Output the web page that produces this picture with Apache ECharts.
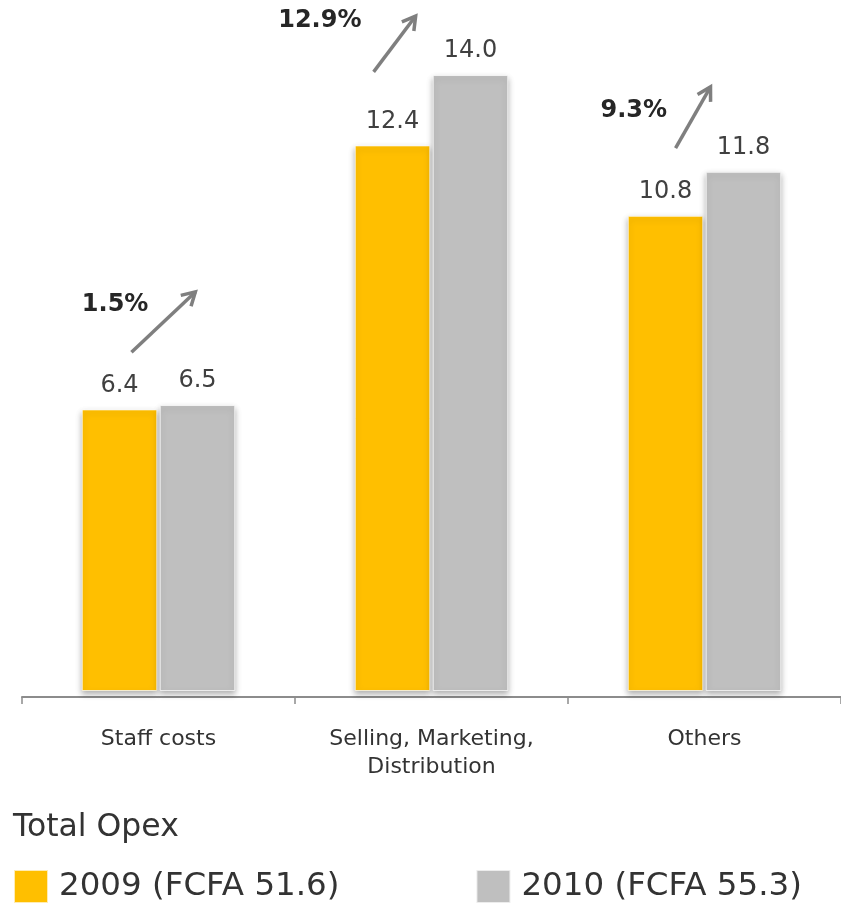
<!DOCTYPE html>
<html>
<head>
<meta charset="utf-8">
<script src="https://cdn.jsdelivr.net/npm/echarts@6/dist/echarts.min.js"></script>
<style>
  html, body { margin: 0; padding: 0; background: #ffffff; }
  #chart { width: 841px; height: 905px; }
</style>
</head>
<body>
<div id="chart"></div>
<script>
// Operating expense breakdown, FCFA billions
const categories = ['Staff costs', 'Selling, Marketing,\nDistribution', 'Others'];
const values2009 = [6.4, 12.4, 10.8];
const values2010 = [6.5, 14.0, 11.8];
const growthLabels = ['1.5%', '12.9%', '9.3%'];
const seriesNames = ['2009', '2010'];
const totals = ['51.6', '55.3'];

// Growth arrows: [category index, tail value, head value, label value]
const arrowLevels = [
  [0, 7.70, 9.07, 8.77],
  [1, 14.07, 15.34, 15.23],
  [2, 12.34, 13.73, 13.18]
];
// Horizontal placement of each arrow within its category band (fraction of band width)
const arrowShift = [
  [-0.099, 0.135, -0.159],
  [-0.212, -0.058, -0.409],
  [-0.106, 0.022, -0.259]
];

const FONT = '"DejaVu Sans", Verdana, sans-serif';
const ORANGE = '#FFBF00';
const GREY = '#BFBFBF';
const ARROW = '#7F7F7F';

const barStyle = (color) => ({
  color: color,
  borderColor: 'rgba(255,255,255,0.7)',
  borderWidth: 1,
  shadowBlur: 6,
  shadowColor: 'rgba(0,0,0,0.3)',
  shadowOffsetY: 3
});

const valueLabel = {
  show: true,
  position: 'top',
  distance: 12,
  fontFamily: FONT,
  fontSize: 24,
  color: '#404040',
  formatter: (p) => p.value.toFixed(1)
};

function renderArrow(params, api) {
  const idx = params.dataIndex;
  const cat = api.value(0);
  const band = api.size([1, 0])[0];
  const shift = arrowShift[idx];
  const tail = api.coord([cat, api.value(1)]);
  const head = api.coord([cat, api.value(2)]);
  const lab = api.coord([cat, api.value(3)]);
  const x0 = tail[0] + shift[0] * band, y0 = tail[1];
  const x1 = head[0] + shift[1] * band, y1 = head[1];
  const ang = Math.atan2(y1 - y0, x1 - x0);
  const len = 15, spread = Math.PI / 6;
  const w1 = [x1 - len * Math.cos(ang - spread), y1 - len * Math.sin(ang - spread)];
  const w2 = [x1 - len * Math.cos(ang + spread), y1 - len * Math.sin(ang + spread)];
  const lineStyle = { stroke: ARROW, lineWidth: 3.5, fill: null, lineCap: 'butt', lineJoin: 'miter' };
  return {
    type: 'group',
    children: [
      { type: 'line', shape: { x1: x0, y1: y0, x2: x1, y2: y1 }, style: lineStyle },
      { type: 'polyline', shape: { points: [w1, [x1, y1], w2] }, style: lineStyle },
      {
        type: 'text',
        x: lab[0] + shift[2] * band,
        y: lab[1],
        style: {
          text: growthLabels[idx],
          fill: '#262626',
          font: 'bold 24px ' + FONT,
          align: 'center',
          verticalAlign: 'middle'
        }
      }
    ]
  };
}

const chart = echarts.init(document.getElementById('chart'), null, { renderer: 'canvas' });

chart.setOption({
  animation: false,
  backgroundColor: '#ffffff',
  title: {
    text: 'Total Opex',
    left: 8,
    top: 807,
    textStyle: { fontFamily: FONT, fontSize: 31.5, fontWeight: 'normal', color: '#333333' }
  },
  legend: {
    left: 8,
    top: 864,
    itemWidth: 34,
    itemHeight: 33,
    itemGap: 136,
    icon: 'rect',
    selectedMode: false,
    data: seriesNames,
    formatter: (name) => name + ' (FCFA ' + totals[seriesNames.indexOf(name)] + ')',
    textStyle: { fontFamily: FONT, fontSize: 32.5, color: '#333333', padding: [0, 0, 0, 6] }
  },
  grid: { left: 22, top: 31, width: 822, height: 660 },
  xAxis: {
    type: 'category',
    data: categories,
    offset: 6,
    axisLine: { onZero: false, lineStyle: { color: '#8C8C8C', width: 2 } },
    axisTick: { show: true, length: 7, lineStyle: { color: '#8C8C8C', width: 1.5 } },
    axisLabel: {
      margin: 28,
      fontFamily: FONT,
      fontSize: 22,
      lineHeight: 28,
      color: '#333333'
    }
  },
  yAxis: {
    type: 'value',
    min: 0,
    max: 15,
    show: false,
    splitLine: { show: false }
  },
  series: [
    {
      name: seriesNames[0],
      type: 'bar',
      data: values2009,
      barWidth: 75.5,
      barGap: '3.3%',
      itemStyle: barStyle(ORANGE),
      label: valueLabel
    },
    {
      name: seriesNames[1],
      type: 'bar',
      data: values2010,
      barWidth: 75.5,
      itemStyle: barStyle(GREY),
      label: valueLabel
    },
    {
      type: 'custom',
      renderItem: renderArrow,
      clip: false,
      silent: true,
      z: 5,
      data: arrowLevels
    }
  ]
});
</script>
</body>
</html>
